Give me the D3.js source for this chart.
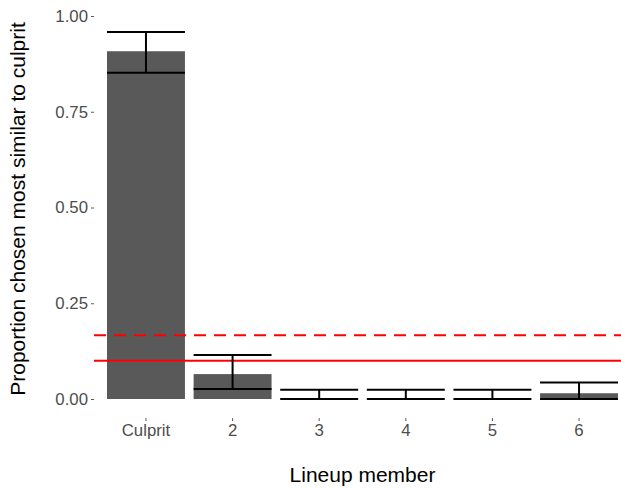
<!DOCTYPE html>
<html>
<head>
<meta charset="utf-8">
<script src="https://cdn.jsdelivr.net/npm/d3@7"></script>
<style>
  body { margin: 0; background: #fff; }
  svg { display: block; font-family: "Liberation Sans", Arial, sans-serif; }
</style>
</head>
<body>
<svg id="chart" width="621" height="489"></svg>
<script>
// Lineup members and their proportion chosen as most similar to the culprit
const members = ["Culprit", "2", "3", "4", "5", "6"];
const proportion = [0.908, 0.065, 0, 0, 0, 0.015];
const ciLower = [0.852, 0.026, 0, 0, 0, 0];
const ciUpper = [0.958, 0.115, 0.024, 0.024, 0.024, 0.043];
const yTicks = [0, 0.25, 0.5, 0.75, 1.0];
const chanceLevel = 1 / 6;   // dashed reference
const fairLevel = 0.1;       // solid reference

const svg = d3.select("#chart");
const panel = { left: 94, right: 631, top: -3, bottom: 418 };

const x = d3.scaleBand()
  .domain(members)
  .range([panel.left, panel.right])
  .paddingInner(0.1)
  .paddingOuter(0.15);

const y = d3.scaleLinear().domain([0, 1]).range([399, 16]);

const bars = members.map((m, i) => ({ m, v: proportion[i], lo: ciLower[i], hi: ciUpper[i] }));

// Bars
svg.append("g").selectAll("rect").data(bars).join("rect")
  .attr("x", d => x(d.m))
  .attr("width", x.bandwidth())
  .attr("y", d => y(d.v))
  .attr("height", d => y(0) - y(d.v))
  .attr("fill", "#595959");

// Reference lines
svg.append("line")
  .attr("x1", panel.left).attr("x2", panel.right)
  .attr("y1", y(fairLevel)).attr("y2", y(fairLevel))
  .attr("stroke", "#ff0000").attr("stroke-width", 2);
svg.append("line")
  .attr("x1", panel.left).attr("x2", panel.right)
  .attr("y1", y(chanceLevel)).attr("y2", y(chanceLevel))
  .attr("stroke", "#ff0000").attr("stroke-width", 2)
  .attr("stroke-dasharray", "12,8");

// Error bars
const eb = svg.append("g").attr("stroke", "#000").attr("stroke-width", 2).attr("fill", "none");
bars.forEach(d => {
  const x0 = x(d.m), x1 = x(d.m) + x.bandwidth(), xc = x(d.m) + x.bandwidth() / 2;
  eb.append("line").attr("x1", x0).attr("x2", x1).attr("y1", y(d.hi)).attr("y2", y(d.hi));
  eb.append("line").attr("x1", x0).attr("x2", x1).attr("y1", y(d.lo)).attr("y2", y(d.lo));
  eb.append("line").attr("x1", xc).attr("x2", xc).attr("y1", y(d.hi)).attr("y2", y(d.lo));
});

// Y axis
const yAxis = svg.append("g")
  .attr("transform", `translate(${panel.left},0)`)
  .call(d3.axisLeft(y).tickValues(yTicks).tickFormat(d3.format(".2f")).tickSize(3).tickPadding(3));
yAxis.select(".domain").remove();
yAxis.selectAll(".tick line").attr("stroke", "#333").attr("stroke-width", 0.8);
yAxis.selectAll(".tick text").attr("fill", "#4d4d4d").style("font-size", "16.8px");

// X axis
const xAxis = svg.append("g")
  .attr("transform", `translate(0,${panel.bottom})`)
  .call(d3.axisBottom(x).tickSize(3).tickPadding(3));
xAxis.select(".domain").remove();
xAxis.selectAll(".tick line").attr("stroke", "#333").attr("stroke-width", 0.8);
xAxis.selectAll(".tick text").attr("fill", "#4d4d4d").style("font-size", "16.8px");

// Axis titles
svg.append("text")
  .attr("x", (panel.left + panel.right) / 2).attr("y", 482)
  .attr("text-anchor", "middle")
  .style("font-size", "21px").attr("fill", "#000")
  .text("Lineup member");
svg.append("text")
  .attr("transform", "translate(25,209) rotate(-90)")
  .attr("text-anchor", "middle")
  .style("font-size", "21px").attr("fill", "#000")
  .text("Proportion chosen most similar to culprit");
</script>
</body>
</html>
